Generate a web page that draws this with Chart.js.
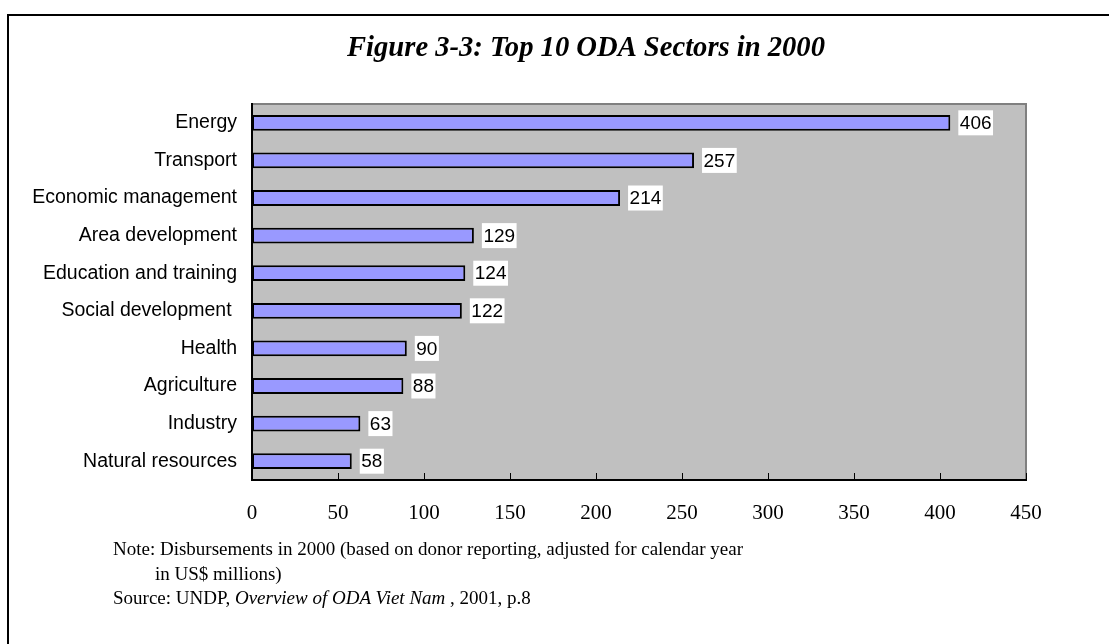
<!DOCTYPE html>
<html>
<head>
<meta charset="utf-8">
<script src="https://cdn.jsdelivr.net/npm/chart.js@4.4.1/dist/chart.umd.min.js"></script>
<style>
  html, body { margin: 0; padding: 0; background: #ffffff; }
  #wrap { position: relative; width: 1109px; height: 644px; overflow: hidden; }
  canvas { position: absolute; left: 0; top: 0; }
  .note { position: absolute; font-family: "Liberation Serif", "Times New Roman", serif; font-size: 19px; line-height: 25px; color: #000; white-space: nowrap; }
</style>
</head>
<body>
<div id="wrap">
  <canvas id="c" width="1109" height="644"></canvas>
  <div class="note" style="left:113px; top:536px;">Note: Disbursements in 2000 (based on donor reporting, adjusted for calendar year</div>
  <div class="note" style="left:155px; top:561px;">in US$ millions)</div>
  <div class="note" style="left:113px; top:585px;">Source: UNDP, <i>Overview of ODA Viet Nam</i> , 2001, p.8</div>
</div>
<script>
const categories = ["Energy", "Transport", "Economic management", "Area development", "Education and training", "Social development ", "Health", "Agriculture", "Industry", "Natural resources"];
const values = [406, 257, 214, 129, 124, 122, 90, 88, 63, 58];
const tickValues = [0, 50, 100, 150, 200, 250, 300, 350, 400, 450];
const titleText = "Figure 3-3: Top 10 ODA Sectors in 2000";

const framePlugin = {
  id: 'frame',
  afterLayout(chart) {
    if (chart.titleBlock) {
      chart.titleBlock.left = 146;
      chart.titleBlock.right = chart.chartArea.right;
    }
  },
  beforeDraw(chart) {
    const ctx = chart.ctx;
    const a = chart.chartArea;
    ctx.save();
    ctx.fillStyle = '#ffffff';
    ctx.fillRect(0, 0, chart.width, chart.height);
    ctx.strokeStyle = '#000000';
    ctx.lineWidth = 2;
    ctx.strokeRect(8, 15, 1300, 800);
    ctx.fillStyle = '#C0C0C0';
    ctx.fillRect(a.left, a.top, a.right - a.left, a.bottom - a.top);
    ctx.strokeStyle = '#808080';
    ctx.lineWidth = 2;
    ctx.beginPath();
    ctx.moveTo(a.left, a.top);
    ctx.lineTo(a.right, a.top);
    ctx.lineTo(a.right, a.bottom);
    ctx.stroke();
    ctx.restore();
  },
  afterDatasetsDraw(chart) {
    const ctx = chart.ctx;
    const a = chart.chartArea;
    const xs = chart.scales.x;
    ctx.save();
    ctx.strokeStyle = '#000000';
    ctx.lineWidth = 1;
    tickValues.forEach(v => {
      const px = Math.round(xs.getPixelForValue(v)) + 0.5;
      ctx.beginPath();
      ctx.moveTo(px, a.bottom - 7);
      ctx.lineTo(px, a.bottom);
      ctx.stroke();
    });
    const meta = chart.getDatasetMeta(0);
    ctx.font = '19px "Liberation Sans", Arial, sans-serif';
    ctx.textBaseline = 'middle';
    ctx.textAlign = 'left';
    meta.data.forEach((bar, i) => {
      const txt = String(values[i]);
      const w = ctx.measureText(txt).width;
      const x0 = bar.x + 8;
      const y0 = bar.y;
      ctx.fillStyle = '#ffffff';
      ctx.fillRect(x0, y0 - 12.5, w + 3, 25);
      ctx.fillStyle = '#000000';
      ctx.fillText(txt, x0 + 1.5, y0 + 1);
    });
    ctx.restore();
  }
};

new Chart(document.getElementById('c'), {
  type: 'bar',
  data: {
    labels: categories,
    datasets: [{
      data: values,
      backgroundColor: '#9999FF',
      borderColor: '#000000',
      borderWidth: 2,
      borderSkipped: false,
      barPercentage: 0.42,
      categoryPercentage: 1.0
    }]
  },
  options: {
    indexAxis: 'y',
    responsive: false,
    animation: false,
    devicePixelRatio: 1,
    layout: { padding: { left: 0, right: 83, top: 0, bottom: 0 } },
    plugins: {
      legend: { display: false },
      tooltip: { enabled: false },
      title: {
        display: true,
        text: titleText,
        color: '#000000',
        font: { family: '"Liberation Serif", "Times New Roman", serif', size: 28.6, weight: 'bold', style: 'italic' },
        padding: { top: 31, bottom: 38.7 }
      }
    },
    scales: {
      x: {
        min: 0,
        max: 450,
        afterBuildTicks(scale) { scale.ticks = tickValues.map(v => ({ value: v })); },
        afterFit(scale) { scale.height = 164; },
        grid: { display: false, drawTicks: false },
        border: { display: true, color: '#000000', width: 2 },
        ticks: {
          color: '#000000',
          padding: 21,
          maxRotation: 0,
          font: { family: '"Liberation Serif", "Times New Roman", serif', size: 21 }
        }
      },
      y: {
        afterFit(scale) { scale.width = 252; },
        grid: { display: false, drawTicks: false },
        border: { display: true, color: '#000000', width: 2 },
        ticks: {
          color: '#000000',
          padding: 15,
          font: { family: '"Liberation Sans", Arial, sans-serif', size: 19.5 }
        }
      }
    }
  },
  plugins: [framePlugin]
});
</script>
</body>
</html>
